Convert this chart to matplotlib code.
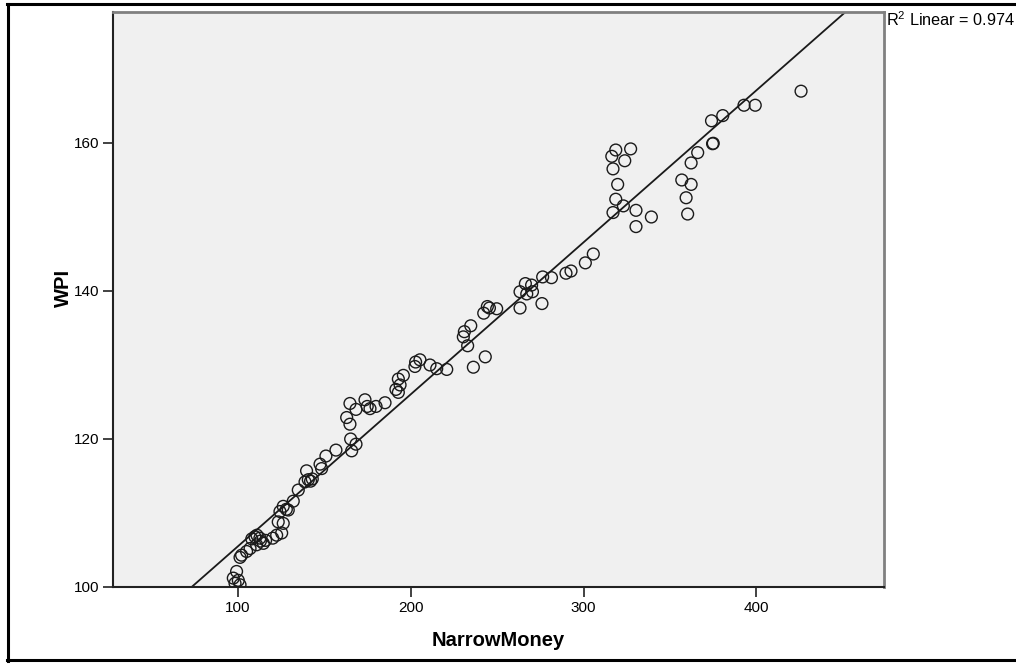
import numpy as np
import matplotlib
matplotlib.use("Agg")
import matplotlib.pyplot as plt
from matplotlib.lines import Line2D

plt.rcParams['font.family'] = ['Liberation Sans', 'DejaVu Sans']
plt.rcParams['mathtext.fontset'] = 'custom'
plt.rcParams['mathtext.rm'] = 'Liberation Sans'
plt.rcParams['mathtext.it'] = 'Liberation Sans'

narrow_money = [
    99.2, 97.3, 100.2, 98.3, 101.2,
    101.2, 102.1, 105.0, 107.0, 110.8, 114.7, 109.8, 112.7, 111.0, 113.0, 116.0, 108.0,
    120.1, 122.4, 125.3, 126.2, 123.3, 124.3, 129.1, 126.2, 128.0, 132.0, 134.9,
    138.8, 140.7, 142.0, 143.0, 139.7, 148.4, 147.5, 150.9, 156.7,
    165.8, 168.3, 165.2, 164.8, 162.9,
    164.8, 173.5, 168.3, 174.8, 176.4, 179.9, 185.1,
    191.4, 192.8, 193.8, 192.8, 195.7,
    202.4, 202.8, 205.3, 211.1, 215.0, 220.8,
    236.2, 243.1, 232.9, 230.4, 231.0, 234.7,
    242.2, 244.3, 245.5, 249.7,
    263.2, 275.9, 263.2, 267.1, 270.4, 266.3, 269.9, 276.3, 281.4,
    289.8, 292.7, 301.0, 305.6,
    317.0, 323.0, 318.6, 319.7, 317.0, 323.8, 316.3, 318.6, 327.2,
    330.3, 339.2, 330.3,
    356.8, 362.2, 359.3, 360.2, 362.2, 366.0, 375.0, 374.6,
    374.0, 380.5, 392.8, 399.3, 425.8,
]
wpi = [
    102.1, 101.2, 100.9, 100.5, 100.3,
    104.0, 104.3, 104.8, 105.2, 105.7, 105.9, 106.8, 106.6, 107.0, 106.2, 106.3, 106.5,
    106.6, 107.0, 107.3, 108.6, 108.8, 110.2, 110.4, 110.9, 110.5, 111.6, 113.1,
    114.2, 114.5, 114.3, 114.6, 115.7, 116.0, 116.6, 117.7, 118.5,
    118.4, 119.3, 120.0, 122.0, 122.9,
    124.8, 125.3, 124.0, 124.4, 124.1, 124.4, 124.9,
    126.7, 126.3, 127.3, 128.1, 128.6,
    129.8, 130.4, 130.7, 130.0, 129.5, 129.4,
    129.7, 131.1, 132.6, 133.8, 134.5, 135.3,
    137.0, 137.9, 137.7, 137.6,
    137.7, 138.3, 139.9, 139.6, 139.9, 141.0, 140.8, 141.9, 141.8,
    142.4, 142.7, 143.8, 145.0,
    150.6, 151.5, 152.4, 154.4, 156.5, 157.6, 158.2, 159.05, 159.2,
    150.9, 150.0, 148.7,
    155.0, 154.4, 152.6, 150.4, 157.3, 158.7, 159.96, 159.9,
    163.0, 163.7, 165.1, 165.1, 167.0,
]
x_ticks = [100, 200, 300, 400]
y_ticks = [100, 120, 140, 160]
x_label = "NarrowMoney"
y_label = "WPI"
r2_text = r"R$^{2}$ Linear = 0.974"

x = np.array(narrow_money)
y = np.array(wpi)
slope, intercept = np.polyfit(x, y, 1)

W, H = 1016, 665
fig = plt.figure(figsize=(W / 100, H / 100), dpi=100)
fig.patch.set_facecolor('white')

# outer frame
for (xs, ys) in [([7, 1016], [4, 4]), ([8, 8], [4, 661]), ([7, 1016], [660, 660])]:
    fig.add_artist(Line2D([v / W for v in xs], [1 - v / H for v in ys],
                          color='black', lw=2.2, transform=fig.transFigure))

ax = fig.add_axes([113 / W, 1 - 587 / H, 771 / W, 575 / H])
ax.set_facecolor('#f0f0f0')
ax.set_xlim(27.7, 473.8)
ax.set_ylim(100, 177.7)

ax.scatter(x, y, s=72, facecolors='none', edgecolors='#1a1a1a', linewidths=1.0, zorder=3)
ax.axline((0, intercept), slope=slope, color='#1a1a1a', lw=1.3, zorder=2)

ax.set_xticks(x_ticks)
ax.set_yticks(y_ticks)
ax.tick_params(direction='out', length=7, width=1.2, color='#222222',
               labelsize=11, pad=3)
for side in ['top', 'right']:
    ax.spines[side].set_color('#808080')
    ax.spines[side].set_linewidth(2)
for side in ['left', 'bottom']:
    ax.spines[side].set_color('#222222')
    ax.spines[side].set_linewidth(1.5)

ax.set_xlabel(x_label, fontsize=14.5, fontweight='bold')
ax.xaxis.set_label_coords(0.5, -0.077)
ax.set_ylabel(y_label, fontsize=14.5, fontweight='bold')
ax.yaxis.set_label_coords(-0.052, 0.52)

fig.text(886 / W, 1 - 20 / H, r2_text, fontsize=11.7, va='center', ha='left')

fig.savefig('out.png', dpi=100)
